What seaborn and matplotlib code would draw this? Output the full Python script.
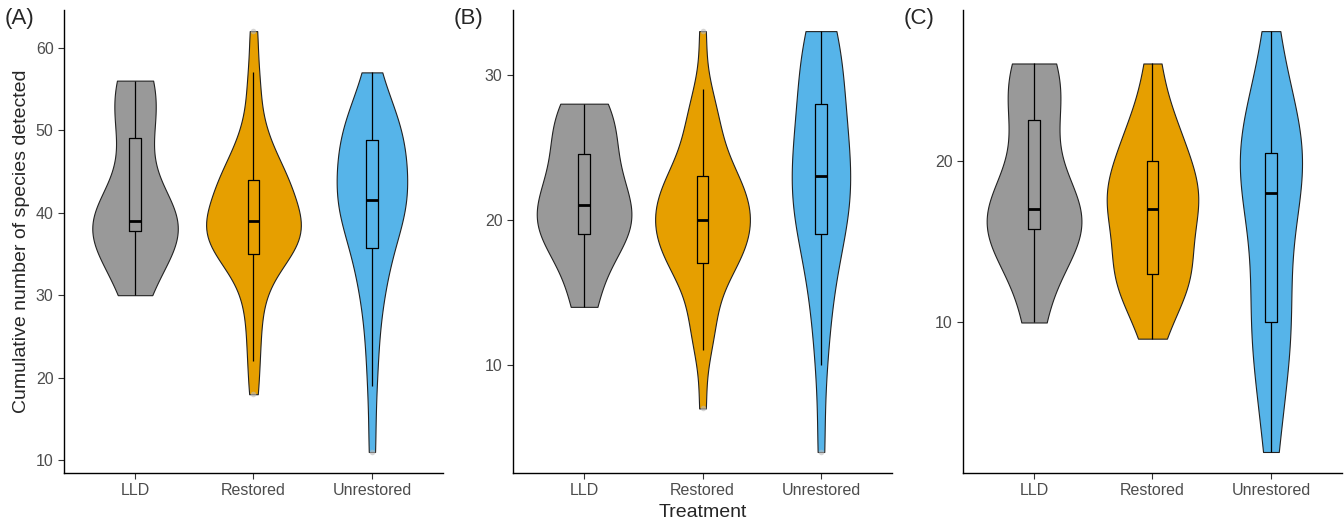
import numpy as np
import pandas as pd
import matplotlib.pyplot as plt
import seaborn as sns

# Treatment groups and colours
treatments = ["LLD", "Restored", "Unrestored"]
palette = {"LLD": "#999999", "Restored": "#E69F00", "Unrestored": "#56B4E9"}

# Panel A - cumulative species counts per site
a_lld = [30, 34, 37, 38, 39, 39, 39, 40, 48, 52, 55, 56]
a_restored = [18, 22, 25, 28, 30, 32, 33, 34, 35, 35,
              35, 36, 36, 37, 37, 38, 38, 38, 39, 39,
              39, 40, 40, 41, 41, 42, 43, 43, 44, 44,
              44, 45, 46, 47, 48, 49, 51, 54, 57, 62]
a_unrestored = [11, 19, 24, 28, 31, 33, 34, 35, 38, 39,
                40, 40, 41, 41, 41, 42, 43, 44, 45, 46,
                47, 48, 49, 49, 50, 50, 51, 52, 54, 57]

# Panel B
b_lld = [14, 17, 19, 19, 20, 21, 21, 23, 24, 26, 27, 28]
b_restored = [7, 11, 12, 13, 14, 15, 16, 17, 17, 17,
              17, 18, 18, 18, 19, 19, 19, 20, 20, 20,
              20, 20, 21, 21, 21, 22, 22, 22, 23, 23,
              23, 23, 24, 25, 26, 26, 27, 28, 29, 33]
b_unrestored = [4, 10, 13, 15, 17, 18, 19, 20, 21, 21, 22, 22, 23,
                24, 25, 25, 26, 27, 28, 29, 30, 31, 32, 33, 33]

# Panel C
c_lld = [10, 14, 15, 16, 16, 17, 17, 18, 22, 24, 25, 26]
c_restored = [9, 11, 12, 13, 13, 13, 14, 15, 17, 17,
              17, 18, 18, 18, 20, 20, 21, 22, 23, 26]
c_unrestored = [2, 5, 7, 9, 10, 10, 12, 14, 16, 17,
                19, 19, 20, 20, 20, 22, 22, 23, 25, 28]

panels = [
    ("(A)", [a_lld, a_restored, a_unrestored], (8.45, 64.55), [10, 20, 30, 40, 50, 60]),
    ("(B)", [b_lld, b_restored, b_unrestored], (2.55, 34.45), [10, 20, 30]),
    ("(C)", [c_lld, c_restored, c_unrestored], (0.7, 29.3), [10, 20]),
]


# R's bw.nrd0 rule, given to the kde as a factor of the sample sd
def nrd0(kde):
    x = kde.dataset[0]
    sd = np.std(x, ddof=1)
    q75, q25 = np.percentile(x, [75, 25])
    lo = min(sd, (q75 - q25) / 1.34)
    return 0.9 * lo * len(x) ** -0.2 / sd


sns.set_style("ticks")
plt.rcParams["font.family"] = ["Liberation Sans", "DejaVu Sans"]

fig = plt.figure(figsize=(13.44, 5.3), dpi=100)
lefts = [0.0476, 0.3817, 0.7165]
width = 0.282
bottom, height = 0.1075, 0.8735

for i, (tag, groups, ylim, yticks) in enumerate(panels):
    ax = fig.add_axes([lefts[i], bottom, width, height])
    df = pd.DataFrame({
        "Treatment": [t for t, g in zip(treatments, groups) for _ in g],
        "Species": [v for g in groups for v in g],
    })
    sns.violinplot(data=df, x="Treatment", y="Species", hue="Treatment",
                   order=treatments, hue_order=treatments, palette=palette,
                   cut=0, inner=None, density_norm="area", common_norm=True,
                   width=0.8, bw_method=nrd0, saturation=1, linewidth=0.8,
                   linecolor="#222222", legend=False, ax=ax)
    sns.boxplot(data=df, x="Treatment", y="Species", order=treatments,
                width=0.1, fill=False, color="black", linewidth=0.9,
                showcaps=False,
                medianprops=dict(linewidth=2, color="black"),
                flierprops=dict(marker="o", markersize=4, markerfacecolor="#bbbbbb",
                                markeredgecolor="none", alpha=0.6),
                ax=ax)
    ax.set_xlim(-0.6, 2.6)
    ax.set_ylim(*ylim)
    ax.set_yticks(yticks)
    ax.tick_params(axis="both", labelsize=11.5, labelcolor="#4D4D4D",
                   color="#333333", length=4, width=0.8)
    for s in ["left", "bottom"]:
        ax.spines[s].set_linewidth(1.0)
        ax.spines[s].set_color("black")
    sns.despine(ax=ax)
    ax.set_ylabel("")
    ax.set_xlabel("")
    fig.text(lefts[i] - 0.044, 0.965, tag, fontsize=16, ha="left", va="center")
    if i == 0:
        ax.set_ylabel("Cumulative number of species detected", fontsize=14)
    if i == 1:
        ax.set_xlabel("Treatment", fontsize=14, labelpad=4)

fig.savefig("out.png", dpi=100)
